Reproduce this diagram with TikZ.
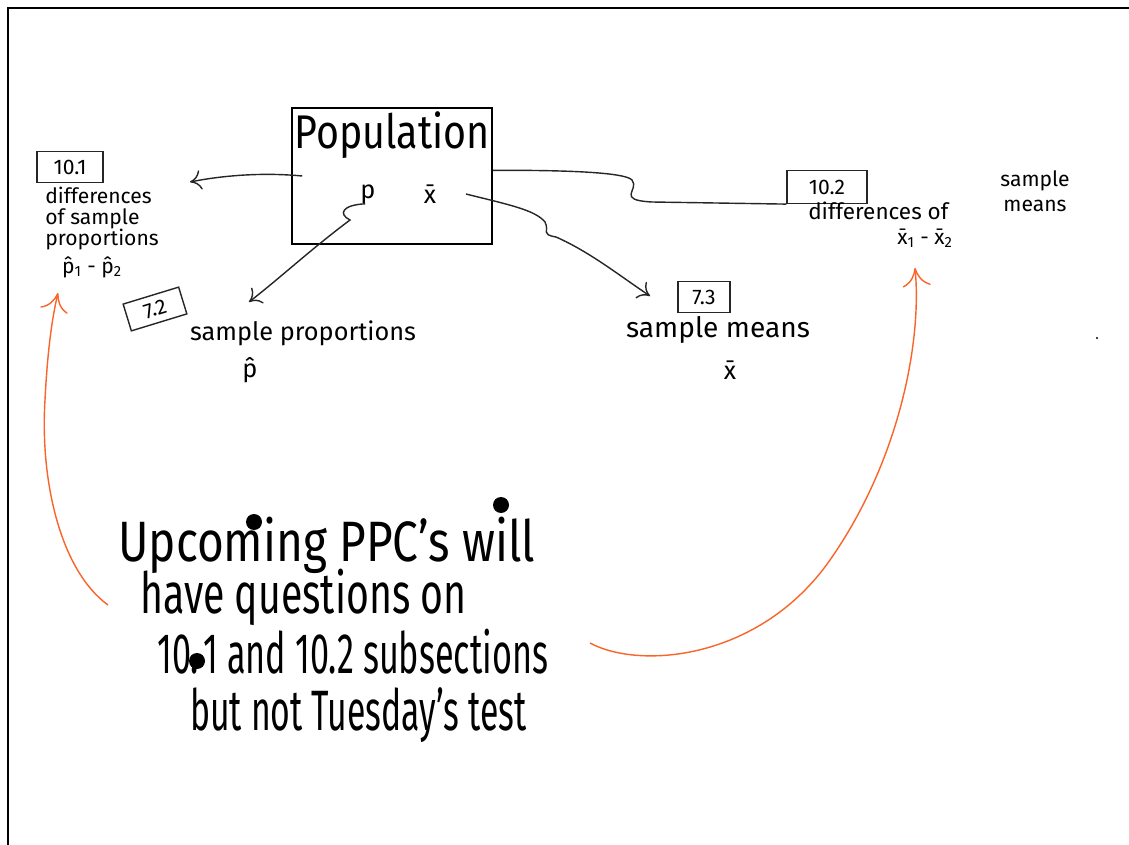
\documentclass[tikz,border=0pt]{standalone}
\usepackage{fontspec}
\setmainfont{Fira Sans}
\usepackage{tikz}
\usetikzlibrary{arrows.meta}
\usetikzlibrary{positioning}
\definecolor{penorange}{RGB}{250,100,40}

\begin{document}
\begin{tikzpicture}[x=0.025cm,y=-0.025cm,>={To[length=8pt,width=14pt]},
  ink/.style={draw=black!85,line width=1pt},
  orangeink/.style={draw=penorange,line width=1pt,>={To[length=13pt,width=20pt]}},
  tag/.style={draw=black!85,line width=1pt,inner sep=1pt,font=\fontsize{15}{17}\selectfont},
  scrawl/.style={inner sep=0pt,font=\fontsize{15}{15}\selectfont},
  label/.style={inner sep=0pt,font=\fontsize{18}{20}\selectfont},
  notes/.style={inner sep=0pt,anchor=west,font=\fontsize{30}{32}\selectfont}]
  \useasboundingbox (0,0) rectangle (1129,845);
  \draw[line width=2pt] (8,845) -- (8,8) -- (1129,8);

  % population box
  \node[draw,line width=1.4pt,minimum width=5cm,minimum height=3.42cm] (pop) at (392,176) {};
  \node[inner sep=0pt,font=\fontsize{28}{30}\selectfont] (poptitle) at (392,135) {\scalebox{1}[1.2]{Population}};
  \node[label] (p) at (368,194) {p};
  \node[label] (xbar) at (430,194) {\={x}};

  % 10.1
  \node[tag,minimum width=1.65cm,minimum height=0.78cm] (s101) at (70,167) {10.1};
  \node[scrawl,anchor=north west,align=left] (diff1) at (45,187) {differences\\of sample\\proportions};
  \node[scrawl] (pdiff) at (92,267) {\^{p}\textsubscript{1} - \^{p}\textsubscript{2}};

  % 7.2
  \node[tag,rotate=17,minimum width=1.45cm,minimum height=0.7cm] (s72) at (155,309) {7.2};
  \node[label] (sprop) at (303,333) {sample proportions};
  \node[label] (phat) at (250,370) {\^{p}};

  % 7.3
  \node[tag,minimum width=1.3cm,minimum height=0.78cm] (s73) at (704,297) {7.3};
  \node[label,font=\fontsize{20}{22}\selectfont] (smean) at (718,330) {sample means};
  \node[label] (xmean) at (730,370) {\={x}};

  % 10.2
  \node[tag,minimum width=2cm,minimum height=0.82cm] (s102) at (827,187) {10.2};
  \node[scrawl,font=\fontsize{16}{16}\selectfont,anchor=west] (diff2) at (808,211) {differences of};
  \node[scrawl] (samp2) at (1035,181) {sample};
  \node[scrawl] (mean2) at (1035,206) {means};
  \node[scrawl] (xdiff) at (925,238) {\={x}\textsubscript{1} - \={x}\textsubscript{2}};
  \fill (1097,338) circle (1.2);

  \coordinate (toleft) at (190,182);
  \coordinate (tosprop) at (249,302);
  \coordinate (tosmean) at (650,296);
  \draw[ink,->] ([xshift=8pt]pop.west) .. controls (260,172) and (220,176) .. (toleft);
  \draw[ink,->] ([xshift=-2pt]p.south) .. controls (342,205) and (338,214) .. (350,220)
    .. controls (310,250) and (280,278) .. (tosprop);
  \draw[ink,->] ([xshift=21pt]xbar.east) .. controls (510,205) and (535,210) .. (545,222)
    .. controls (550,232) and (540,234) .. (556,237) .. controls (590,252) and (620,276) .. (tosmean);
  \draw[ink] ([yshift=4pt]pop.east) .. controls (560,170) and (625,172) .. (632,180)
    .. controls (640,190) and (615,200) .. (652,202) -- (s102.south west);

  % note
  \node[notes] (note1) at (118,545) {\scalebox{1.09}[1.35]{Upcoming PPC's will}};
  \node[notes] (note2) at (140,597) {\scalebox{0.93}[1.35]{have questions on}};
  \node[notes] (note3) at (157,652) {\scalebox{0.81}[1.35]{10.\kern4pt 1 and 10.2 subsections}};
  \node[notes] (note4) at (190,715) {\scalebox{0.8}[1.35]{but not Tuesday's test}};
  \fill (254,522) circle (8);
  \fill (501,505) circle (8);
  \fill (197,661) circle (8);

  \coordinate (lefttail) at (108,605);
  \coordinate (righttail) at (590,643);
  \coordinate (uptoleft) at (58,293);
  \coordinate (uptoright) at (915,268);
  \draw[orangeink,->] (lefttail) .. controls (60,570) and (40,480) .. (45,400)
    .. controls (48,340) and (54,310) .. (uptoleft);
  \draw[orangeink,->] (righttail) .. controls (640,670) and (760,660) .. (830,560)
    .. controls (900,460) and (922,340) .. (uptoright);
\end{tikzpicture}
\end{document}
